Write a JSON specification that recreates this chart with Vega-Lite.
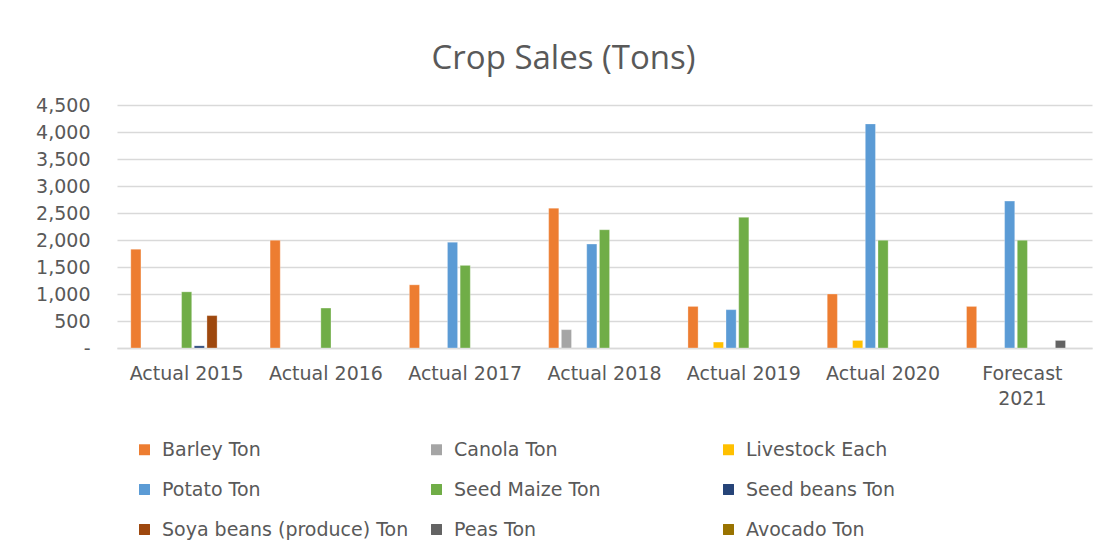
{
  "$schema": "https://vega.github.io/schema/vega-lite/v6.json",
  "autosize": {"type": "none"},
  "width": 975,
  "height": 243,
  "padding": {"left": 117, "top": 105, "right": 15, "bottom": 204},
  "background": "white",
  "title": {
    "text": "Crop Sales (Tons)",
    "font": "Open Sans",
    "fontSize": 33,
    "fontWeight": "normal",
    "color": "#595959",
    "anchor": "middle",
    "dx": -41,
    "offset": 20
  },
  "data": {
    "values": [
      {"period": "Actual 2015", "series": "Barley Ton", "value": 1830},
      {"period": "Actual 2015", "series": "Seed Maize Ton", "value": 1040},
      {"period": "Actual 2015", "series": "Seed beans Ton", "value": 40},
      {"period": "Actual 2015", "series": "Soya beans (produce) Ton", "value": 600},
      {"period": "Actual 2016", "series": "Barley Ton", "value": 1995},
      {"period": "Actual 2016", "series": "Seed Maize Ton", "value": 740},
      {"period": "Actual 2017", "series": "Barley Ton", "value": 1170},
      {"period": "Actual 2017", "series": "Potato Ton", "value": 1960},
      {"period": "Actual 2017", "series": "Seed Maize Ton", "value": 1530},
      {"period": "Actual 2018", "series": "Barley Ton", "value": 2590},
      {"period": "Actual 2018", "series": "Canola Ton", "value": 340},
      {"period": "Actual 2018", "series": "Potato Ton", "value": 1925},
      {"period": "Actual 2018", "series": "Seed Maize Ton", "value": 2190},
      {"period": "Actual 2019", "series": "Barley Ton", "value": 770},
      {"period": "Actual 2019", "series": "Livestock Each", "value": 110},
      {"period": "Actual 2019", "series": "Potato Ton", "value": 710},
      {"period": "Actual 2019", "series": "Seed Maize Ton", "value": 2420},
      {"period": "Actual 2020", "series": "Barley Ton", "value": 1000},
      {"period": "Actual 2020", "series": "Livestock Each", "value": 140},
      {"period": "Actual 2020", "series": "Potato Ton", "value": 4150},
      {"period": "Actual 2020", "series": "Seed Maize Ton", "value": 1995},
      {"period": "Forecast 2021", "series": "Barley Ton", "value": 770},
      {"period": "Forecast 2021", "series": "Potato Ton", "value": 2720},
      {"period": "Forecast 2021", "series": "Seed Maize Ton", "value": 1995},
      {"period": "Forecast 2021", "series": "Peas Ton", "value": 140}
    ]
  },
  "mark": {"type": "bar", "stroke": "white", "strokeWidth": 0.5, "strokeOpacity": 0.6},
  "encoding": {
    "x": {
      "field": "period",
      "type": "nominal",
      "sort": null,
      "scale": {"paddingInner": 0.18, "paddingOuter": 0.09},
      "axis": {
        "title": null,
        "labelAngle": 0,
        "labelFont": "DejaVu Sans",
        "labelFontSize": 19,
        "labelColor": "#595959",
        "labelPadding": 16,
        "labelLineHeight": 25,
        "labelBaseline": "top",
        "labelExpr": "datum.value == 'Forecast 2021' ? ['Forecast', '2021'] : datum.value",
        "ticks": false,
        "domainColor": "#d9d9d9",
        "domainWidth": 1.5,
        "grid": false
      }
    },
    "xOffset": {
      "field": "series",
      "type": "nominal",
      "scale": {
        "domain": ["Barley Ton", "Canola Ton", "Livestock Each", "Potato Ton", "Seed Maize Ton", "Seed beans Ton", "Soya beans (produce) Ton", "Peas Ton", "Avocado Ton"],
        "paddingInner": 0.2,
        "paddingOuter": 0.1
      }
    },
    "y": {
      "field": "value",
      "type": "quantitative",
      "scale": {"domain": [0, 4500], "nice": false},
      "axis": {
        "title": null,
        "values": [0, 500, 1000, 1500, 2000, 2500, 3000, 3500, 4000, 4500],
        "labelExpr": "datum.value == 0 ? '-' : format(datum.value, ',')",
        "labelFont": "DejaVu Sans",
        "labelFontSize": 19,
        "labelColor": "#595959",
        "labelPadding": 27,
        "ticks": false,
        "domain": false,
        "gridColor": "#d9d9d9",
        "gridWidth": 1.5
      }
    },
    "color": {
      "field": "series",
      "type": "nominal",
      "scale": {
        "domain": ["Barley Ton", "Potato Ton", "Soya beans (produce) Ton", "Canola Ton", "Seed Maize Ton", "Peas Ton", "Livestock Each", "Seed beans Ton", "Avocado Ton"],
        "range": ["#ED7D31", "#5B9BD5", "#9E480E", "#A5A5A5", "#70AD47", "#636363", "#FFC000", "#264478", "#997300"]
      },
      "legend": {
        "title": null,
        "orient": "none",
        "legendX": 18,
        "legendY": 335,
        "columns": 3,
        "gridAlign": "all",
        "columnPadding": 18,
        "rowPadding": 20,
        "symbolType": "square",
        "symbolSize": 120,
        "symbolStrokeWidth": 0,
        "labelFont": "DejaVu Sans",
        "labelFontSize": 19,
        "labelColor": "#595959",
        "labelOffset": 8,
        "labelLimit": 400
      }
    }
  },
  "config": {
    "view": {"stroke": null}
  }
}
